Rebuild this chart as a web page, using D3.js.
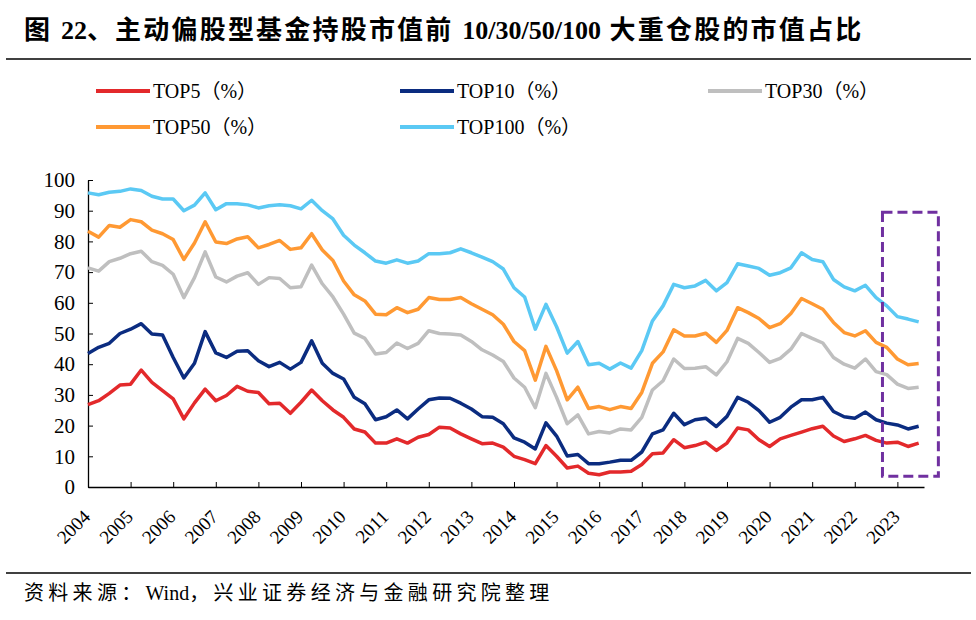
<!DOCTYPE html>
<html>
<head>
<meta charset="utf-8">
<script src="https://cdn.jsdelivr.net/npm/d3@7"></script>
<style>
  body { margin: 0; background: #fff; }
  svg { display: block; }
</style>
</head>
<body>
<div id="chart"></div>
<script>
// quarterly points, 2004Q1 .. 2023Q3
const years = ['2004', '2005', '2006', '2007', '2008', '2009', '2010', '2011', '2012', '2013',
               '2014', '2015', '2016', '2017', '2018', '2019', '2020', '2021', '2022', '2023'];

const top5 = [26.8, 28.1, 30.5, 33.2, 33.5, 38.1, 34.1, 31.4, 28.7, 22.2, 27.4, 31.9, 28.1, 29.8, 32.8, 31.2, 30.8, 27.1, 27.3, 24.0,
              27.6, 31.6, 28.1, 25.1, 22.7, 18.9, 17.9, 14.3, 14.3, 15.7, 14.3, 16.2, 17.1, 19.5, 19.2, 17.3, 15.7, 14.1, 14.3, 13.0,
              10.0, 8.9, 7.6, 13.5, 10.0, 6.2, 6.8, 4.5, 4.0, 4.9, 4.9, 5.1, 7.3, 10.8, 11.1, 15.4, 12.8, 13.5, 14.6, 11.9,
              14.3, 19.2, 18.6, 15.4, 13.2, 15.7, 16.8, 17.9, 19.0, 19.8, 16.6, 14.8, 15.7, 16.8, 15.2, 14.3, 14.6, 13.2, 14.3];
const top10 = [43.5, 45.5, 46.8, 50.0, 51.4, 53.2, 49.8, 49.5, 42.2, 35.5, 40.3, 50.6, 43.7, 42.2, 44.2, 44.4, 41.1, 39.2, 40.6, 38.4,
               40.6, 47.6, 40.3, 37.0, 35.2, 29.2, 27.1, 21.9, 22.9, 25.1, 22.2, 25.4, 28.4, 29.0, 28.9, 27.3, 25.4, 22.9, 22.7, 20.6,
               16.0, 14.6, 12.4, 20.9, 16.6, 10.1, 10.6, 7.6, 7.6, 8.1, 8.7, 8.7, 11.4, 17.3, 18.6, 24.0, 20.3, 21.9, 22.4, 19.7,
               23.0, 29.2, 27.6, 24.9, 21.1, 22.7, 26.0, 28.4, 28.4, 29.2, 24.6, 22.9, 22.4, 24.4, 21.9, 20.8, 20.2, 18.9, 19.8];
const top30 = [71.4, 70.3, 73.4, 74.5, 76.0, 76.8, 73.4, 72.2, 69.3, 61.7, 68.2, 76.6, 68.4, 66.8, 68.7, 69.8, 66.0, 68.2, 67.9, 64.9,
               65.2, 72.3, 66.2, 61.9, 56.3, 50.1, 48.4, 43.3, 43.8, 46.9, 45.1, 46.8, 50.9, 50.0, 49.8, 49.5, 47.4, 44.7, 43.0, 40.9,
               35.5, 32.5, 25.8, 37.0, 29.2, 20.6, 23.5, 17.3, 18.1, 17.6, 18.9, 18.6, 22.7, 31.6, 34.6, 41.7, 38.6, 38.7, 39.2, 36.5,
               40.8, 48.4, 46.8, 43.8, 40.6, 41.9, 44.9, 50.0, 48.4, 46.9, 42.2, 40.0, 38.7, 41.7, 37.6, 36.6, 33.5, 32.1, 32.5];
const top50 = [83.3, 81.4, 85.2, 84.6, 87.1, 86.4, 83.7, 82.5, 80.6, 74.1, 79.5, 86.4, 79.8, 79.3, 80.8, 81.5, 77.9, 79.0, 80.3, 77.4,
               77.9, 82.5, 77.2, 73.8, 67.1, 62.6, 60.6, 56.3, 56.1, 58.4, 56.8, 57.9, 61.7, 61.1, 61.1, 61.7, 59.7, 57.9, 56.1, 53.0,
               47.4, 44.4, 34.8, 45.8, 37.9, 28.4, 32.5, 25.6, 26.2, 25.2, 26.2, 25.6, 30.8, 40.3, 44.0, 51.2, 49.2, 49.2, 50.1, 47.1,
               51.0, 58.4, 56.8, 54.9, 51.9, 53.2, 56.5, 61.4, 59.7, 57.9, 53.6, 50.3, 49.2, 50.9, 47.1, 45.5, 41.7, 39.8, 40.2];
const top100 = [95.8, 95.2, 96.0, 96.3, 97.1, 96.6, 94.7, 93.8, 93.8, 90.0, 91.8, 95.8, 90.3, 92.3, 92.3, 91.9, 90.9, 91.6, 91.9, 91.6,
                90.6, 93.4, 90.0, 87.3, 82.0, 78.8, 76.3, 73.6, 72.9, 74.0, 72.9, 73.6, 76.0, 76.0, 76.3, 77.6, 76.3, 74.9, 73.4, 71.0,
                64.9, 61.9, 51.4, 59.5, 52.2, 43.6, 47.4, 39.8, 40.3, 38.4, 40.4, 38.7, 44.4, 54.1, 59.0, 66.0, 64.9, 65.5, 67.3, 63.9,
                66.6, 72.7, 72.0, 71.2, 69.0, 69.8, 71.4, 76.3, 74.1, 73.4, 67.6, 65.2, 63.9, 65.7, 61.7, 59.0, 55.5, 54.7, 53.8];

const seriesNames = ['TOP5（%）', 'TOP10（%）', 'TOP30（%）', 'TOP50（%）', 'TOP100（%）'];
const seriesColors = ['#E3292B', '#0B2C80', '#BFBFBF', '#FF9933', '#5BC9F4'];
const seriesValues = [top5, top10, top30, top50, top100];
const yTicks = [0, 10, 20, 30, 40, 50, 60, 70, 80, 90, 100];

// highlighted recent period (quarter index range, value range)
const highlightQuarters = [74.6, 79.85];
const highlightValues = [3.5, 89.5];

const serif = '"Liberation Serif", "Times New Roman", "DejaVu Serif", "Noto Sans CJK SC", serif';

const width = 976;
const height = 620;

const svg = d3.select('#chart')
    .append('svg')
    .attr('width', width)
    .attr('height', height);

// title, latin parts unspaced
const title = svg.append('text')
    .attr('x', 24)
    .attr('y', 39)
    .style('font-family', serif)
    .style('font-size', '26px')
    .style('font-weight', 'bold');
[['图 ', '2.2px'], ['22', '0px'], ['、主动偏股型基金持股市值前 ', '2.2px'], ['10/30/50/100', '0px'], [' 大重仓股的市值占比', '2.2px']]
    .forEach(([t, ls]) => title.append('tspan').style('letter-spacing', ls).text(t));

svg.append('line')
    .attr('x1', 6).attr('x2', 971)
    .attr('y1', 59).attr('y2', 59)
    .attr('stroke', '#000').attr('stroke-width', 1.5);

svg.append('line')
    .attr('x1', 6).attr('x2', 971)
    .attr('y1', 573).attr('y2', 573)
    .attr('stroke', '#000').attr('stroke-width', 1.5);

const source = svg.append('text')
    .attr('x', 24)
    .attr('y', 600)
    .style('font-family', serif)
    .style('font-size', '20px');
[['资料来源：', '4.3px'], ['Wind', '0px'], ['，兴业证券经济与金融研究院整理', '4.3px']]
    .forEach(([t, ls]) => source.append('tspan').style('letter-spacing', ls).text(t));

// legend
const legendPos = [[96, 91], [400, 91], [708, 91], [96, 127], [400, 127]];
const legend = svg.append('g');
seriesNames.forEach((name, k) => {
    const [lx, ly] = legendPos[k];
    legend.append('line')
        .attr('x1', lx).attr('x2', lx + 54)
        .attr('y1', ly).attr('y2', ly)
        .attr('stroke', seriesColors[k])
        .attr('stroke-width', 4);
    legend.append('text')
        .attr('x', lx + 57)
        .attr('y', ly + 7)
        .style('font-family', serif)
        .style('font-size', '20px')
        .text(name);
});

// scales
const x = d3.scaleLinear().domain([0, 78.5]).range([88, 924]);
const y = d3.scaleLinear().domain([0, 100]).range([487, 180]);

const g = svg.append('g');

const yAxis = g.append('g')
    .attr('transform', `translate(${x(0)},0)`)
    .call(d3.axisLeft(y).tickValues(yTicks).tickSizeInner(-5).tickSizeOuter(0).tickPadding(13));
yAxis.attr('font-family', null).attr('font-size', null);
yAxis.select('.domain').attr('stroke', '#000').attr('stroke-width', 1.3);
yAxis.selectAll('.tick line').attr('stroke', '#000');
yAxis.selectAll('text')
    .style('font-family', serif)
    .style('font-size', '21px')
    .attr('fill', '#000');

const xAxis = g.append('g')
    .attr('transform', `translate(0,${y(0)})`)
    .call(d3.axisBottom(x)
        .tickValues(years.map((d, k) => k * 4))
        .tickFormat((d, k) => years[k])
        .tickSizeInner(-5).tickSizeOuter(0));
xAxis.attr('font-family', null).attr('font-size', null);
xAxis.select('.domain').attr('stroke', '#000').attr('stroke-width', 1.3);
xAxis.selectAll('.tick line').attr('stroke', '#000');
xAxis.selectAll('text')
    .style('font-family', serif)
    .style('font-size', '19px')
    .attr('fill', '#000')
    .attr('y', 0)
    .attr('dy', 0)
    .attr('text-anchor', 'end')
    .attr('transform', 'translate(3,31) rotate(-45)');

// lines
const line = d3.line()
    .x((d, k) => x(k))
    .y(d => y(d));

seriesValues.forEach((vals, k) => {
    g.append('path')
        .datum(vals)
        .attr('fill', 'none')
        .attr('stroke', seriesColors[k])
        .attr('stroke-width', 3.5)
        .attr('stroke-linejoin', 'round')
        .attr('d', line);
});

// dashed highlight box
g.append('rect')
    .attr('x', x(highlightQuarters[0]))
    .attr('y', y(highlightValues[1]))
    .attr('width', x(highlightQuarters[1]) - x(highlightQuarters[0]))
    .attr('height', y(highlightValues[0]) - y(highlightValues[1]))
    .attr('fill', 'none')
    .attr('stroke', '#7030A0')
    .attr('stroke-width', 3)
    .attr('stroke-dasharray', '10,5');
</script>
</body>
</html>
